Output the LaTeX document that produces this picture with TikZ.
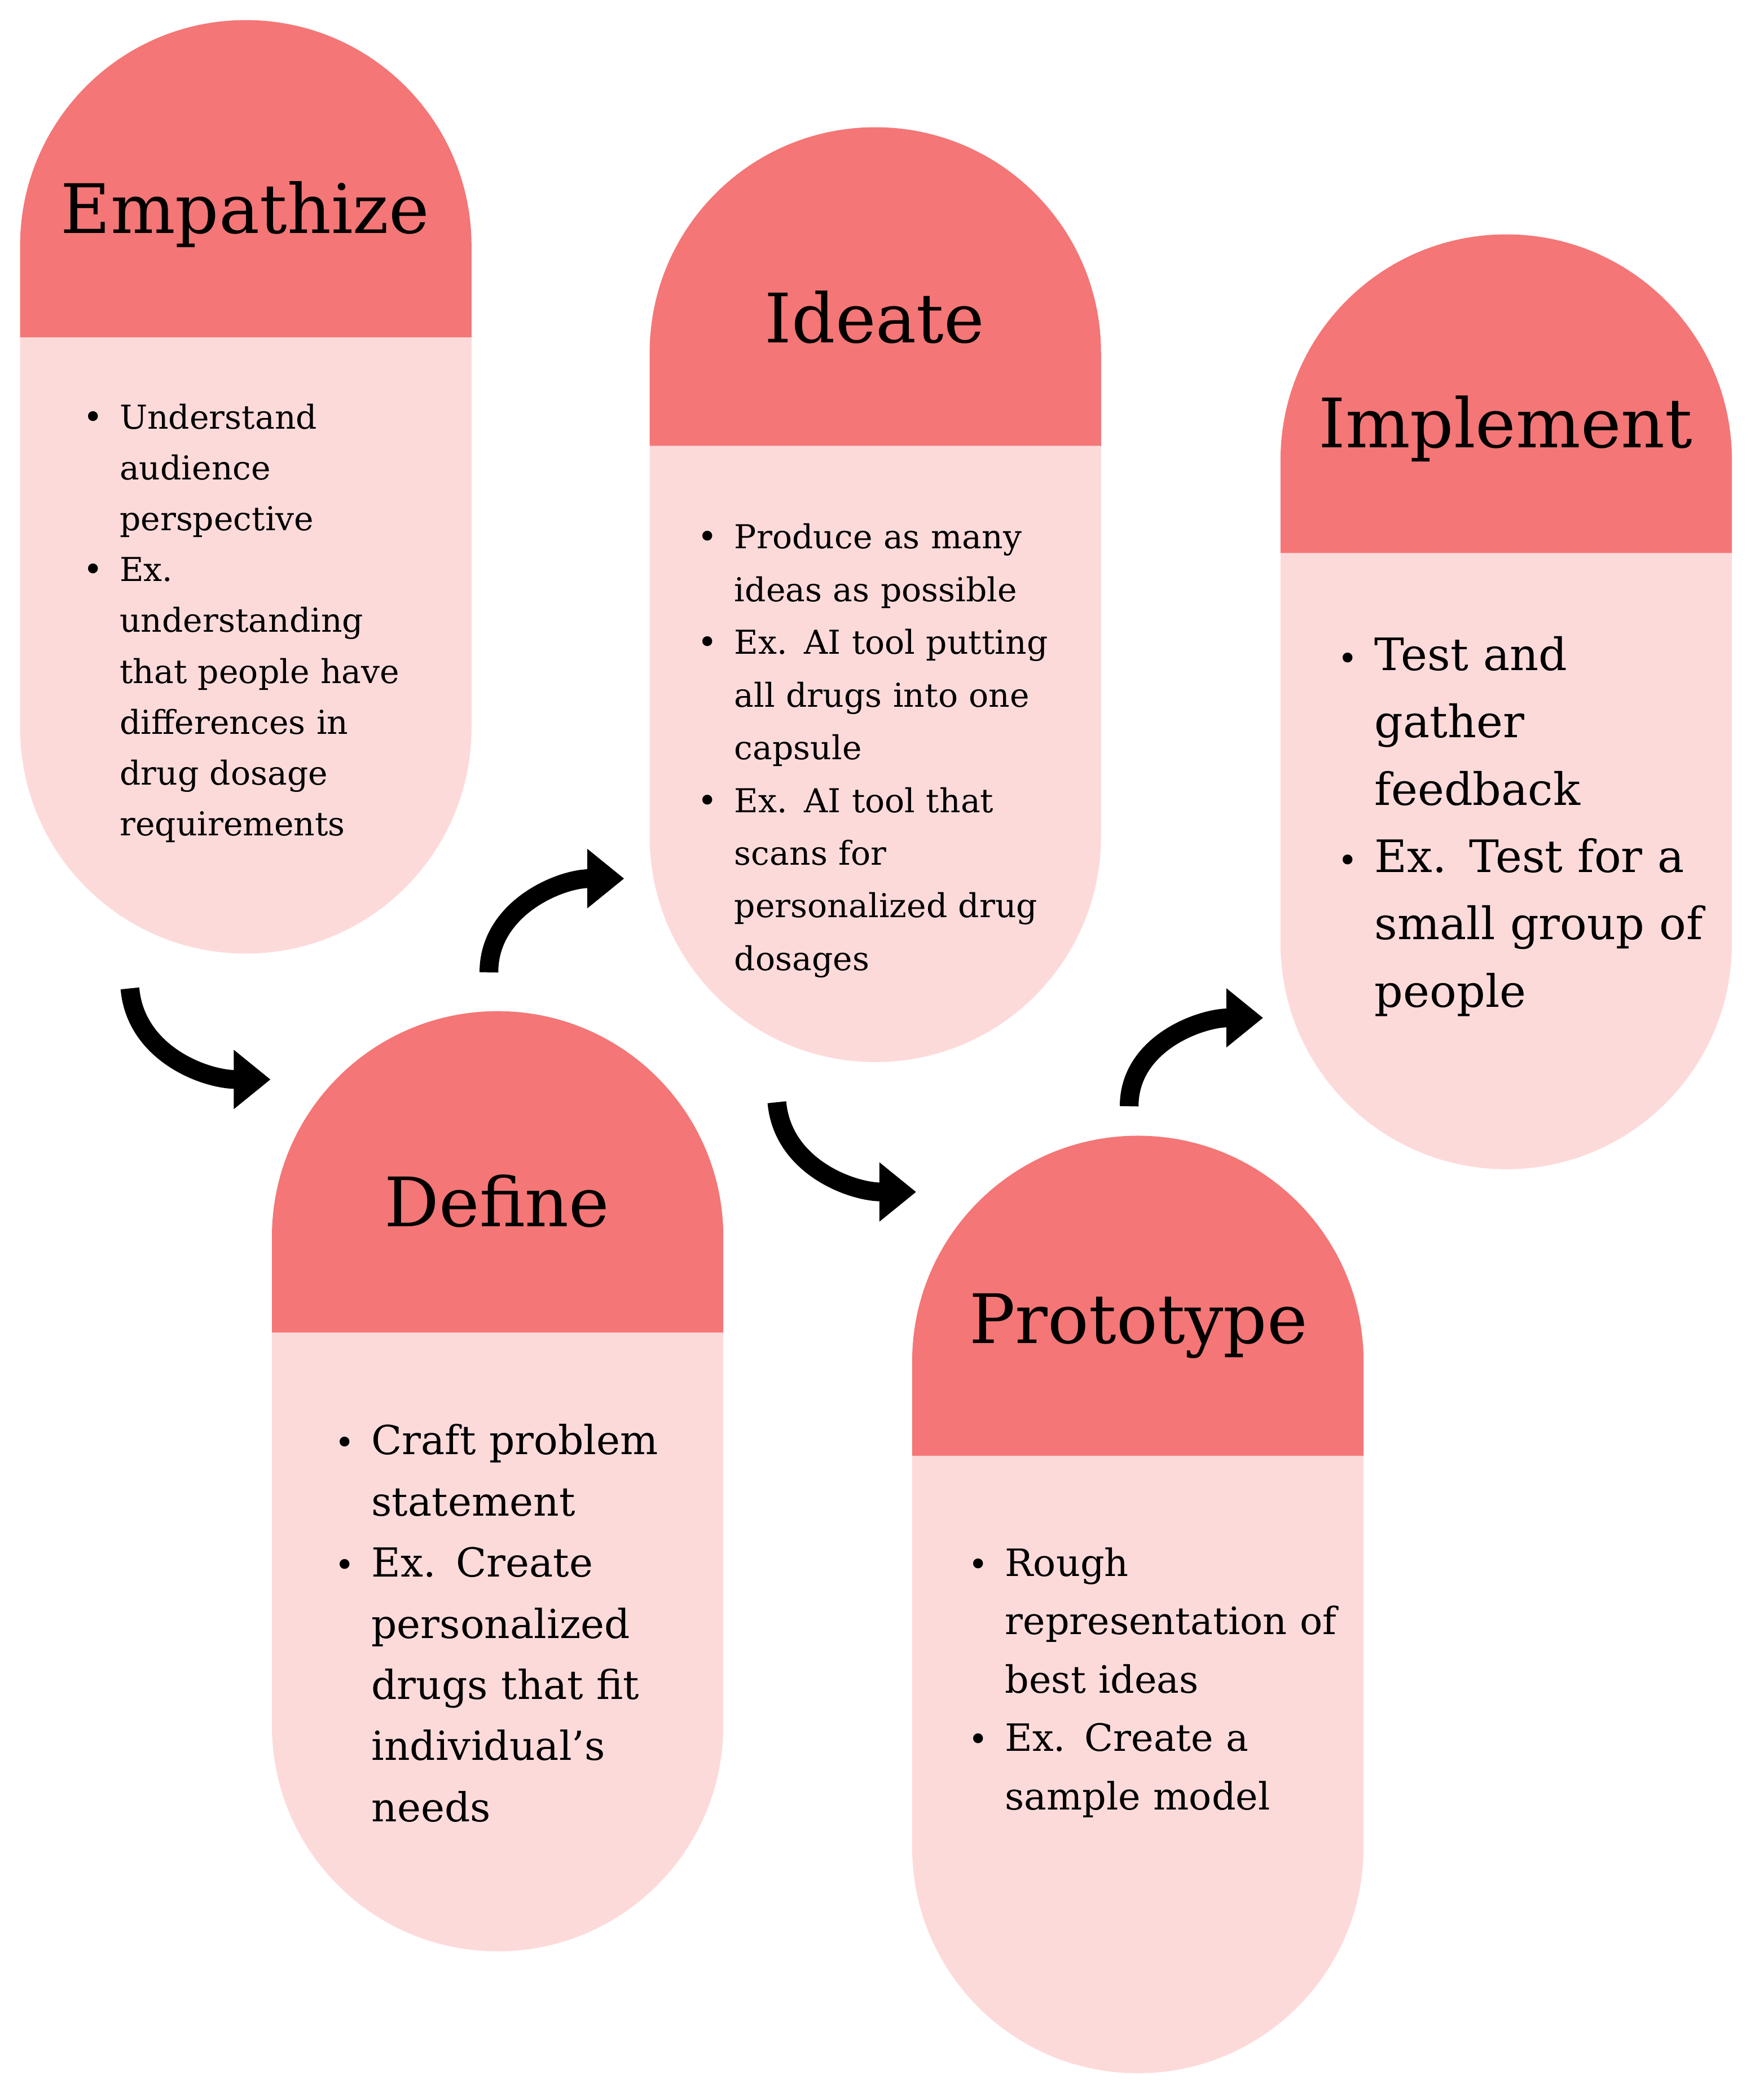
\documentclass[tikz,border=0pt]{standalone}
\usepackage{fontspec}
\setmainfont{DejaVu Serif}
\usepackage{enumitem}
\usepackage{xcolor}
\usetikzlibrary{arrows.meta, positioning}
\definecolor{capdark}{HTML}{F47676}
\definecolor{caplight}{HTML}{FDDADA}
\setlist[itemize]{label={\Large\textbullet}, leftmargin=0.68cm, labelsep=0.25cm, itemsep=0pt, topsep=0pt, parsep=0pt}
% capsule: left x, top y, head y, bottom y (all in px, y down)
\newcommand{\pillshape}[4]{%
  \fill[capdark] (#1,-#3) -- (#1,-#2-168.5) arc (180:0:168.5) -- (#1+337,-#3) -- cycle;
  \fill[caplight] (#1,-#3) -- (#1,-#4+168.5) arc (180:360:168.5) -- (#1+337,-#3) -- cycle;
}
\begin{document}
\begin{tikzpicture}[x=0.02cm, y=0.02cm,
    title/.style={font=\fontsize{29}{36}\selectfont, anchor=center},
    items/.style={anchor=north west, inner sep=0pt, align=left},
    flow/.style={line width=0.28cm, -{Triangle[length=0.55cm, width=0.85cm]}}]
  \useasboundingbox (0,0) rectangle (1310,-1568);
  % Capsules
  \pillshape{15}{15}{252}{712}
  \pillshape{485}{95}{333}{793}
  \pillshape{956}{175}{413}{873}
  \pillshape{203}{755}{995}{1457}
  \pillshape{681}{848}{1087}{1548}
  % Titles
  \node[title] (empT) at (183,-160) {Empathize};
  \node[title] (ideT) at (653,-237) {Ideate};
  \node[title] (impT) at (1124,-320) {Implement};
  \node[title] (defT) at (371,-897) {Define};
  \node[title] (proT) at (850,-990) {Prototype};
  % Bullet lists
  \node[items, text width=4.9cm, font=\fontsize{14}{21.6}\selectfont] (empL) at (55,-282) {%
    \begin{itemize}
      \item Understand audience perspective
      \item Ex. understanding that people have differences in drug dosage requirements
    \end{itemize}};
  \node[items, text width=6.0cm, font=\fontsize{14}{22.4}\selectfont] (ideL) at (514,-370) {%
    \begin{itemize}
      \item Produce as many ideas as possible
      \item Ex. AI tool putting all drugs into one capsule
      \item Ex. AI tool that scans for personalized drug dosages
    \end{itemize}};
  \node[items, text width=5.7cm, font=\fontsize{19}{28.6}\selectfont] (impL) at (992,-450) {%
    \begin{itemize}
      \item Test and gather feedback
      \item Ex. Test for a small group of people
    \end{itemize}};
  \node[items, text width=5.8cm, font=\fontsize{17}{26}\selectfont] (defL) at (243,-1040) {%
    \begin{itemize}
      \item Craft problem statement
      \item Ex. Create personalized drugs that fit individual’s needs
    \end{itemize}};
  \node[items, text width=5.9cm, font=\fontsize{16}{24.8}\selectfont] (proL) at (716,-1133) {%
    \begin{itemize}
      \item Rough representation of best ideas
      \item Ex. Create a sample model
    \end{itemize}};
  % Arrows
  \coordinate (a1s) at (97,-738);  \coordinate (a1e) at (202,-806);
  \coordinate (a2s) at (365,-726); \coordinate (a2e) at (466,-656);
  \coordinate (a3s) at (580,-823); \coordinate (a3e) at (684,-890);
  \coordinate (a4s) at (843,-826); \coordinate (a4e) at (943,-760);
  \draw[flow] (a1s) to[out=-85, in=180] (a1e);
  \draw[flow] (a2s) to[out=90, in=180] (a2e);
  \draw[flow] (a3s) to[out=-85, in=180] (a3e);
  \draw[flow] (a4s) to[out=90, in=180] (a4e);
\end{tikzpicture}
\end{document}
